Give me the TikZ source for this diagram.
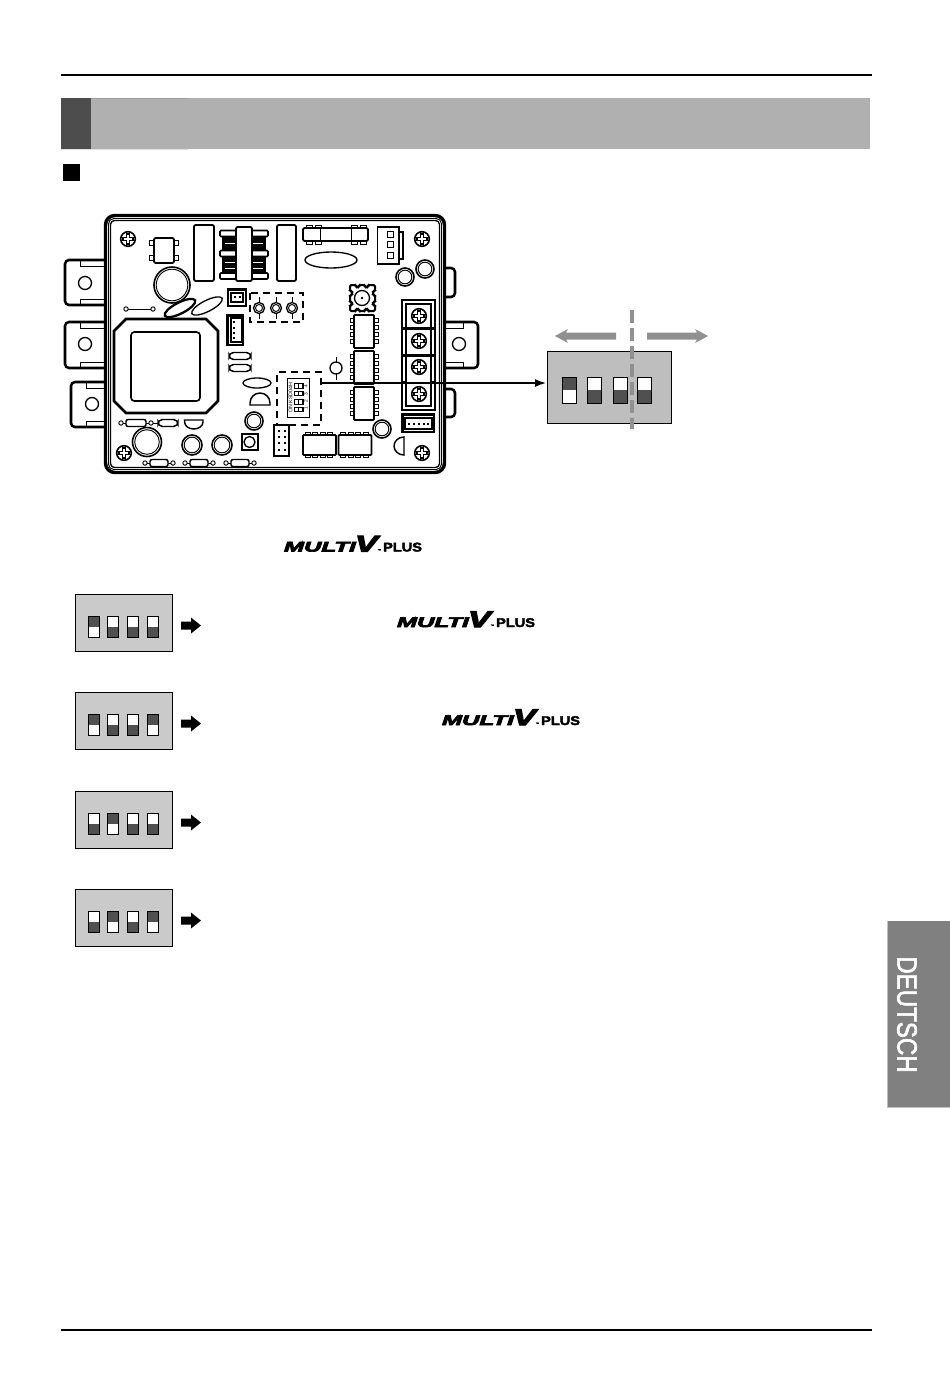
\documentclass[tikz,border=0pt]{standalone}
\usepackage{fontspec}
\usepackage{graphicx}
\setmainfont{Liberation Sans}
\newfontfamily\logofont[BoldItalicFeatures={FakeBold=4.5},BoldFeatures={FakeBold=3}]{Liberation Sans}
\newfontfamily\tabfont[FakeBold=2.2]{Liberation Sans}
\usetikzlibrary{arrows.meta,calc}
\definecolor{bandgray}{HTML}{B0B0B0}
\definecolor{banddark}{HTML}{4D4D4D}
\definecolor{sheetgray}{HTML}{CACACA}
\definecolor{viewgray}{HTML}{BEBEBE}
\definecolor{swdark}{HTML}{505050}
\definecolor{guide}{HTML}{909090}
\definecolor{tabgray}{HTML}{808080}
\tikzset{
  pcb/.style={draw=black,line width=1pt,fill=white},
  pcbthick/.style={draw=black,line width=1.9pt,fill=white},
  pcbthin/.style={draw=black,line width=0.7pt,fill=white},
  dashbox/.style={draw=black,line width=1.6pt,dash pattern=on 5.5pt off 3.5pt},
  swcell/.style={draw=black,line width=0.6pt},
}
% small parts
\newcommand{\screw}[2]{%
  \draw[pcb,line width=1.2pt] (#1,#2) circle[radius=7.3];
  \draw[pcb,line width=0.8pt] ($(#1,#2)+(-1.7,-5)$) -- ++(3.4,0) -- ++(0,3.3) -- ++(3.3,0) -- ++(0,3.4) -- ++(-3.3,0) -- ++(0,3.3) -- ++(-3.4,0) -- ++(0,-3.3) -- ++(-3.3,0) -- ++(0,-3.4) -- ++(3.3,0) -- cycle;
}
\newcommand{\ringpart}[3]{% x y r
  \draw[pcb,line width=1.2pt] (#1,#2) circle[radius=#3];
  \draw[pcbthin] (#1,#2) circle[radius=#3-2.2];
}
\newcommand{\lead}[2]{\draw[pcbthin] (#1,#2) circle[radius=2.2];}
\newcommand{\respart}[3]{% cx y halfwidth
  \draw[line width=0.6pt] (#1-#3-5,#2) -- (#1+#3+5,#2);
  \lead{#1-#3-5}{#2}\lead{#1+#3+5}{#2}
  \draw[pcb,line width=1.1pt,rounded corners=1.5] (#1-#3,#2-3.5) rectangle (#1+#3,#2+3.5);
}
\newcommand{\pillpart}[3]{% cx y halfwidth
  \draw[pcb,line width=1.1pt,rounded corners=3.4] (#1-#3,#2-3.5) rectangle (#1+#3,#2+3.5);
}
\newcommand{\icv}[2]{% vertical IC
  \foreach \k in {0,1,2,3}{
    \draw[pcbthin] (#1-4,#2+3+\k*7) rectangle ++(4,4);
    \draw[pcbthin] (#1+20,#2+3+\k*7) rectangle ++(4,4);
  }
  \draw[pcb,line width=1.3pt,rounded corners=0.7] (#1,#2) rectangle ++(20,33);
}
\newcommand{\ich}[2]{% horizontal IC
  \foreach \k in {0,1,2,3}{
    \draw[pcbthin] (#1+2+\k*7.5,#2-2.5) rectangle ++(5,2.5);
    \draw[pcbthin] (#1+2+\k*7.5,#2+20) rectangle ++(5,2.5);
  }
  \draw[pcb,line width=1.4pt,rounded corners=0.7] (#1,#2) rectangle ++(33,20);
}
\newcommand{\swcellU}[4]{%
  \fill[white] (#1,#2) rectangle ++(#3,#4);
  \fill[swdark] (#1,#2) rectangle ++(#3,#4/2);
  \draw[swcell] (#1,#2) rectangle ++(#3,#4);
}
\newcommand{\swcellD}[4]{%
  \fill[white] (#1,#2) rectangle ++(#3,#4);
  \fill[swdark] (#1,#2+#4/2) rectangle ++(#3,#4/2);
  \draw[swcell] (#1,#2) rectangle ++(#3,#4);
}
\newcommand{\optbox}[6]{% y-top, name, four cells
  \node[draw=black,line width=0.75pt,fill=sheetgray,minimum width=73pt,minimum height=43pt,inner sep=0pt,outer sep=0pt,anchor=north west] (#2) at (75,#1) {};
  \csname swcell#3\endcsname{88}{#1+22}{11}{21}
  \csname swcell#4\endcsname{107}{#1+22}{11}{21}
  \csname swcell#5\endcsname{127}{#1+22}{11}{21}
  \csname swcell#6\endcsname{147}{#1+22}{11}{21}
  \fill[black] (181,#1+27.5) -- (191,#1+27.5) -- (191,#1+23.5) -- (201,#1+31.5) -- (191,#1+39.5) -- (191,#1+35.5) -- (181,#1+35.5) -- cycle;
}
\newcommand{\mvlogo}[3]{% x-left baseline-y, name
  \node[anchor=base west,inner sep=0pt,outer sep=0pt] (#3) at (#1,#2) {\logofont\scalebox{1.72}[1]{\fontsize{10.5}{10.5}\selectfont\bfseries\itshape MULTI}\hspace{-0.5pt}\scalebox{1.5}[1]{\fontsize{17}{17}\selectfont\bfseries\itshape V}{\fontsize{2.5}{2.5}\selectfont\bfseries ™}\hspace{1.5pt}\scalebox{1.15}[1]{\fontsize{9.5}{9.5}\selectfont\bfseries PLUS}};
}
\begin{document}
\begin{tikzpicture}[x=0.75pt,y=-0.75pt]
\useasboundingbox (0,0) rectangle (950,1393);
\fill[white] (0,0) rectangle (950,1393);
% page furniture
\draw[line width=2pt] (61,75) -- (872,75);
\draw[line width=2pt] (61,1330) -- (872,1330);
\fill[bandgray] (61,98) rectangle (870,149);
\fill[banddark] (61,98) rectangle (91,149);
\draw[line width=0.7pt,color=black!38] (91,98.3) -- (188,98.3);
\draw[line width=0.7pt,color=black!12] (61,149.4) -- (188,149.4);
\fill[black] (63,164) rectangle (80,181);
\fill[tabgray] (887,921) rectangle (950,1107);
\draw[line width=0.7pt,color=black!25] (887,921) -- (887,1107) -- (950,1107);
\node[text=white,rotate=-90,inner sep=0pt] (deutsch) at (907,1014.5) {\scalebox{.86}[1]{\tabfont\fontsize{21}{21}\selectfont DEUTSCH}};

% ------ board tabs
\foreach \yt/\yb/\xl in {260/305/65,322/368/65,382/427/71}{
  \draw[pcb,line width=1.9pt,rounded corners=3] (107,\yt) -- (\xl,\yt) -- (\xl,\yb) -- (107,\yb);
  \draw[line width=0.7pt] (\xl+15,\yt) -- (\xl+15,\yt+6) -- (107,\yt+6);
  \draw[line width=0.7pt] (\xl+15,\yb) -- (\xl+15,\yb-6) -- (107,\yb-6);
}
\draw[pcb] (85,283) circle[radius=6.5];
\draw[pcb] (85,344) circle[radius=6.5];
\draw[pcb] (92,404) circle[radius=6.5];
\draw[pcbthick,rounded corners=3] (443,268) -- (455,268) -- (455,297) -- (443,297);
\draw[pcbthick,rounded corners=3] (443,389) -- (455,389) -- (455,417) -- (443,417);
\draw[pcbthick,rounded corners=3] (443,322) -- (478,322) -- (478,368) -- (443,368);
\draw[line width=0.7pt] (445,328) -- (463,328) -- (463,322);
\draw[line width=0.7pt] (445,362) -- (463,362) -- (463,368);
\draw[pcb] (459,344) circle[radius=6.5];
% ------ board shell
\draw[pcb,line width=2.6pt,rounded corners=7] (105.5,215.5) rectangle (444.5,472.5);
\draw[line width=0.7pt,rounded corners=4] (108.5,218.5) rectangle (441.5,469.5);
\draw[line width=1pt,rounded corners=3] (110.5,220.5) rectangle (439.5,467.5);

% ------ screws
\screw{128}{239}\screw{124}{453}\screw{422}{239}\screw{422}{453}

% ------ left top chip
\foreach \yy in {243,258}{
  \draw[pcbthin] (149,\yy-2.5) rectangle (178,\yy+2.5);
}
\draw[pcb,line width=1.4pt,rounded corners=1] (154,238) rectangle (174,263);
\ringpart{172}{285}{18}
% big rects
\draw[pcb,line width=1.4pt,rounded corners=1] (194,225) rectangle (214,281);
\draw[pcb,line width=1.4pt,rounded corners=1] (277,225) rectangle (296,281);
% coil
\fill[black] (222,232) rectangle (266,277);
\foreach \yy in {243.5,262.5,268.5}{\fill[white] (225,\yy-0.7) rectangle (263,\yy+0.7);}
\foreach \yy in {233.5,253.5,276}{
  \draw[pcb,line width=1.2pt,rounded corners=0.8] (220,\yy-3) rectangle (268,\yy+3);
}
\draw[pcb,line width=1.4pt,rounded corners=1] (236,227) rectangle (252,281);
% lead
\draw[line width=0.6pt] (126,309) -- (153,309);
\lead{126}{309}\lead{153}{309}
% tilted ellipses
\draw[pcb,line width=1.7pt] (180,308) ellipse[x radius=17,y radius=5.5,rotate=27];
\draw[pcb] (207,306) ellipse[x radius=17,y radius=5.5,rotate=27];
% small connector
\draw[pcb,line width=1.6pt] (228,289.5) rectangle (246,306);
\draw[pcb] (231,293) rectangle (243,302);
\fill[black] (233.5,296) rectangle ++(2,2);
\fill[black] (238.5,296) rectangle ++(2,2);
% 4-pin connector
\draw[pcb,line width=1.6pt] (227.5,315.5) rectangle (243,345);
\draw[pcb] (231,318) rectangle (242,342);
\foreach \yy in {322,328,333,338}{\fill[black] (232.5,\yy-1) rectangle ++(2,2);}
% transformer
\draw[pcb,line width=1.9pt] (126,319) -- (206,319) -- (218,331) -- (218,401) -- (206,413) -- (126,413) -- (114,401) -- (114,331) -- cycle;
\draw[pcb,line width=1.2pt,rounded corners=2.5] (131,332) rectangle (200,401);
% pills and domes
\pillpart{240}{356}{11}\pillpart{240}{368}{11}
\draw[pcb] (257,383) ellipse[x radius=14,y radius=5];
\draw[pcb,line width=1.1pt] (250,405) -- (250,403) arc[start angle=180,end angle=360,radius=10] -- (270,405) -- cycle;
\ringpart{254}{421}{9}
\draw[pcb,line width=1.6pt] (242,434) rectangle (258,450);
\draw[pcb] (249.5,442) circle[radius=5.5];
% lower-left row
\respart{136}{423}{10}
\draw[line width=0.6pt] (153,423) -- (158,423);
\pillpart{168}{423}{10}
\draw[pcb,line width=1.1pt] (184.5,420) -- (203,420) -- (203,422) arc[start angle=0,end angle=180,x radius=9.2,y radius=7] -- cycle;
\ringpart{147}{442}{14.5}
\ringpart{192}{445}{10}
\ringpart{222}{445}{10}
\respart{159}{463}{9}
\respart{199}{463}{9}
\respart{240}{463}{9}

% ------ centre dashed group
\draw[dashbox] (250,293) rectangle (303,322);
\foreach \xx in {259,276,292}{
  \draw[line width=0.6pt] (\xx,297) -- (\xx,319);
  \draw[pcb] (\xx,308) circle[radius=5.5];
  \draw[pcbthin] (\xx,308) circle[radius=3.5];
}
% fuse
\foreach \xx in {306,315,351,360}{
  \draw[pcbthin] (\xx,225) rectangle ++(6,19);
}
\draw[pcb,line width=1.4pt,rounded corners=1] (303,228) rectangle (368,241);
\draw[line width=0.7pt] (320.5,228) -- (320.5,241);
\draw[line width=0.7pt] (351,228) -- (351,241);
\draw[pcb] (331,260) ellipse[x radius=26,y radius=8];
% top right connector
\draw[pcb] (399,232) rectangle (403,259);
\draw[pcb,line width=1.4pt] (377.5,227) rectangle (399,264);
\foreach \yy in {234,244,255}{\draw[pcbthin] (387,\yy-3) rectangle ++(6,6);}
\ringpart{405}{277}{9}\ringpart{425}{269}{9}
% trimmer
\draw[pcb,line width=1.5pt,rounded corners=1] (350,285) -- (356,285) -- (356,287) -- (359,287) -- (359,285) -- (365,285) -- (365,287) -- (368,287) -- (368,285) -- (375,285) -- (375,291) -- (373,291) -- (373,295) -- (375,295) -- (375,302) -- (373,302) -- (373,305) -- (375,305) -- (375,311) -- (368,311) -- (368,309) -- (365,309) -- (365,311) -- (359,311) -- (359,309) -- (356,309) -- (356,311) -- (350,311) -- (350,305) -- (352,305) -- (352,302) -- (350,302) -- (350,295) -- (352,295) -- (352,291) -- (350,291) -- cycle;
\draw[pcb] (362,298) circle[radius=7.5];
\fill (362,298) circle[radius=1.4];
% ICs
\icv{354}{315}\icv{354}{351}\icv{354}{387}
% terminal block
\draw[pcb,line width=1.7pt] (402,300) rectangle (435,410);
\draw[pcb] (406,304) rectangle (431,406);
\fill[black] (402,327) rectangle (435,329.5);
\fill[black] (402,354) rectangle (435,356.5);
\fill[black] (402,381) rectangle (406,383);\fill[black] (431,381) rectangle (435,383);
\screw{419}{316}\screw{419}{341}\screw{419}{367}\screw{419}{394}
% bottom right connector
\draw[pcb,line width=1.6pt] (402.5,414.5) rectangle (434,432);
\draw[pcb] (405,418) rectangle (432,429);
\foreach \xx in {409,414,419,424,428}{\fill[black] (\xx-1,422.5) rectangle ++(2,2);}
\ringpart{382}{429}{9}
\draw[pcb,line width=1.1pt] (404,437) arc[start angle=-90,end angle=-270,x radius=10,y radius=9] -- cycle;
% DIP area
\node[dashbox,minimum width=33pt,minimum height=39.75pt,inner sep=0pt,anchor=north west] (dipzone) at (276,371) {};
\draw[pcbthin] (287,378) rectangle (309,417);
\foreach \yy in {383.7,391.5,399.7,407.3}{
  \draw[line width=0.8pt] (294.5,\yy) rectangle (303,\yy+4.4);
  \draw[line width=0.6pt] (298.8,\yy) -- (298.8,\yy+4.4);
}
\node[rotate=90,inner sep=0pt,font=\fontsize{4}{4}\selectfont] (diplabel) at (290.5,397.5) {ON KSD04H};
\node[rotate=90,inner sep=0pt,font=\fontsize{3.6}{3.6}\selectfont] (dipnums) at (306,397.5) {1\hspace{3.5pt}2\hspace{3.5pt}3\hspace{3.5pt}4};
\draw[line width=0.6pt] (336,357) -- (336,380);
\draw[pcb] (336,368) circle[radius=6];
% header
\draw[pcb,line width=1.2pt] (274,425) rectangle (289,456);
\foreach \yy in {431,437,443,450}{
  \fill[black] (277.5,\yy-1) rectangle ++(2,2);
  \fill[black] (283.5,\yy-1) rectangle ++(2,2);
}
% bottom ICs
\ich{303}{435}\ich{338.5}{435}

% ------ enlarged DIP
\node[draw=black,line width=0.75pt,fill=viewgray,minimum width=93pt,minimum height=54pt,inner sep=0pt,outer sep=0pt,anchor=north west] (dipview) at (547,351) {};
\swcellU{562}{377}{14}{26}
\swcellD{587}{377}{14}{26}
\swcellD{613}{377}{14}{26}
\swcellD{637}{377}{14}{26}
\draw[guide,line width=2.3pt,dash pattern=on 10pt off 3.5pt] (632,310) -- (632,429);
\fill[guide] (616,332.5) -- (566,332.5) -- (568,329) -- (555,336) -- (568,343) -- (566,339.5) -- (616,339.5) -- cycle;
\fill[guide] (647,332.5) -- (697,332.5) -- (695,329) -- (708,336) -- (695,343) -- (697,339.5) -- (647,339.5) -- cycle;
\draw[line width=2.2pt,-{Latex[length=9pt,width=6pt]}] (dipzone.east |- 0,383) -- (dipview.west |- 0,383);

% ------ logo lines
\mvlogo{284}{551.5}{logoa}
\mvlogo{397}{627}{logob}
\mvlogo{442}{725}{logoc}

% ------ options
\optbox{594}{opta}{U}{D}{D}{D}
\optbox{692}{optb}{U}{D}{D}{U}
\optbox{791}{optc}{D}{U}{D}{D}
\optbox{889}{optd}{D}{U}{D}{U}
\end{tikzpicture}
\end{document}
